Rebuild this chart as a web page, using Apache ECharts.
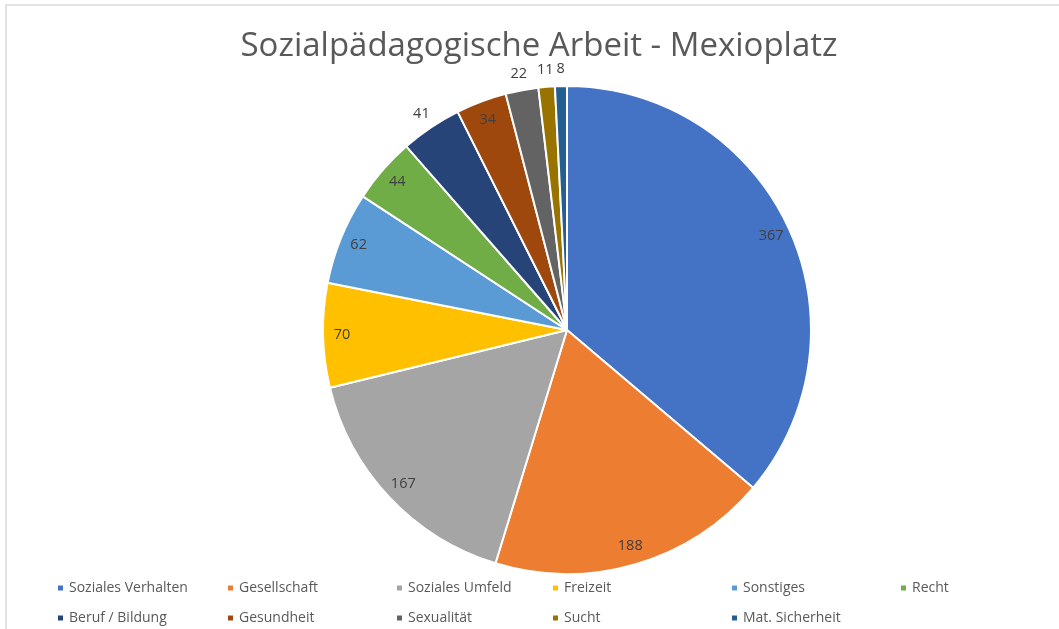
<!DOCTYPE html>
<html>
<head>
<meta charset="utf-8">
<script src="https://cdn.jsdelivr.net/npm/echarts@6/dist/echarts.min.js"></script>
<style>html,body{margin:0;padding:0;background:#fff}#c{width:1059px;height:629px}</style>
</head>
<body>
<div id="c"></div>
<script>
const categories = ['Soziales Verhalten','Gesellschaft','Soziales Umfeld','Freizeit','Sonstiges','Recht','Beruf / Bildung','Gesundheit','Sexualität','Sucht','Mat. Sicherheit'];
const values = [367,188,167,70,62,44,41,34,22,11,8];
const colors = ['#4472C4','#ED7D31','#A5A5A5','#FFC000','#5B9BD5','#70AD47','#264478','#9E480E','#636363','#997300','#255E91'];
const outsideLabelNames = ['Beruf / Bildung','Sexualität','Sucht','Mat. Sicherheit'];
const titleText = 'Sozialpädagogische Arbeit - Mexioplatz';

const FONT = 'Open Sans';
const center = [567, 330];
const R = 244;

const mainData = categories.map((n,i)=>({name:n, value:values[i], itemStyle:{color:colors[i]}}));
const innerLabelData = categories.map((n,i)=>({name:n, value:values[i], label:{show: !outsideLabelNames.includes(n)}}));
const outerLabelData = categories.map((n,i)=>({name:n, value:values[i], label:{show: outsideLabelNames.includes(n)}}));

const labelSeries = (radius, data) => ({
  type:'pie', center, radius, data, silent:true, legendHoverLink:false,
  startAngle:90, clockwise:true, avoidLabelOverlap:false,
  itemStyle:{color:'rgba(0,0,0,0)', borderWidth:0},
  label:{position:'inside', formatter:'{c}', color:'#404040', fontSize:14.5, fontFamily:FONT},
  labelLine:{show:false}, emphasis:{disabled:true}, animation:false, z:5
});

const legendLeft = [56, 226, 395, 551, 730, 899];
const legendTop = [581, 611];
const legends = categories.map((n,i)=>({
  left:legendLeft[i % 6], top:legendTop[Math.floor(i / 6)], padding:0,
  icon:'rect', itemWidth:7, itemHeight:7,
  data:[n],
  textStyle:{color:'#595959', fontSize:14, fontFamily:FONT, padding:[0,0,0,0]},
  selectedMode:false
}));

const chart = echarts.init(document.getElementById('c'), null, {renderer:'canvas'});
chart.setOption({
  animation:false,
  backgroundColor:'#fff',
  title:{text:titleText, left:534, textAlign:'center', top:25, textStyle:{fontFamily:FONT, fontSize:33, fontWeight:'normal', color:'#595959'}},
  legend: legends,
  graphic:[{type:'rect', shape:{x:6, y:5, width:1200, height:800}, style:{fill:'none', stroke:'#d9d9d9', lineWidth:1.5}, silent:true}],
  series:[
    {type:'pie', center, radius:[0,R], data:mainData, startAngle:90, clockwise:true,
     itemStyle:{borderColor:'#fff', borderWidth:2}, label:{show:false}, labelLine:{show:false},
     emphasis:{disabled:true}, animation:false},
    labelSeries([200, R], innerLabelData),
    labelSeries([R, 272], outerLabelData)
  ]
});
</script>
</body>
</html>
